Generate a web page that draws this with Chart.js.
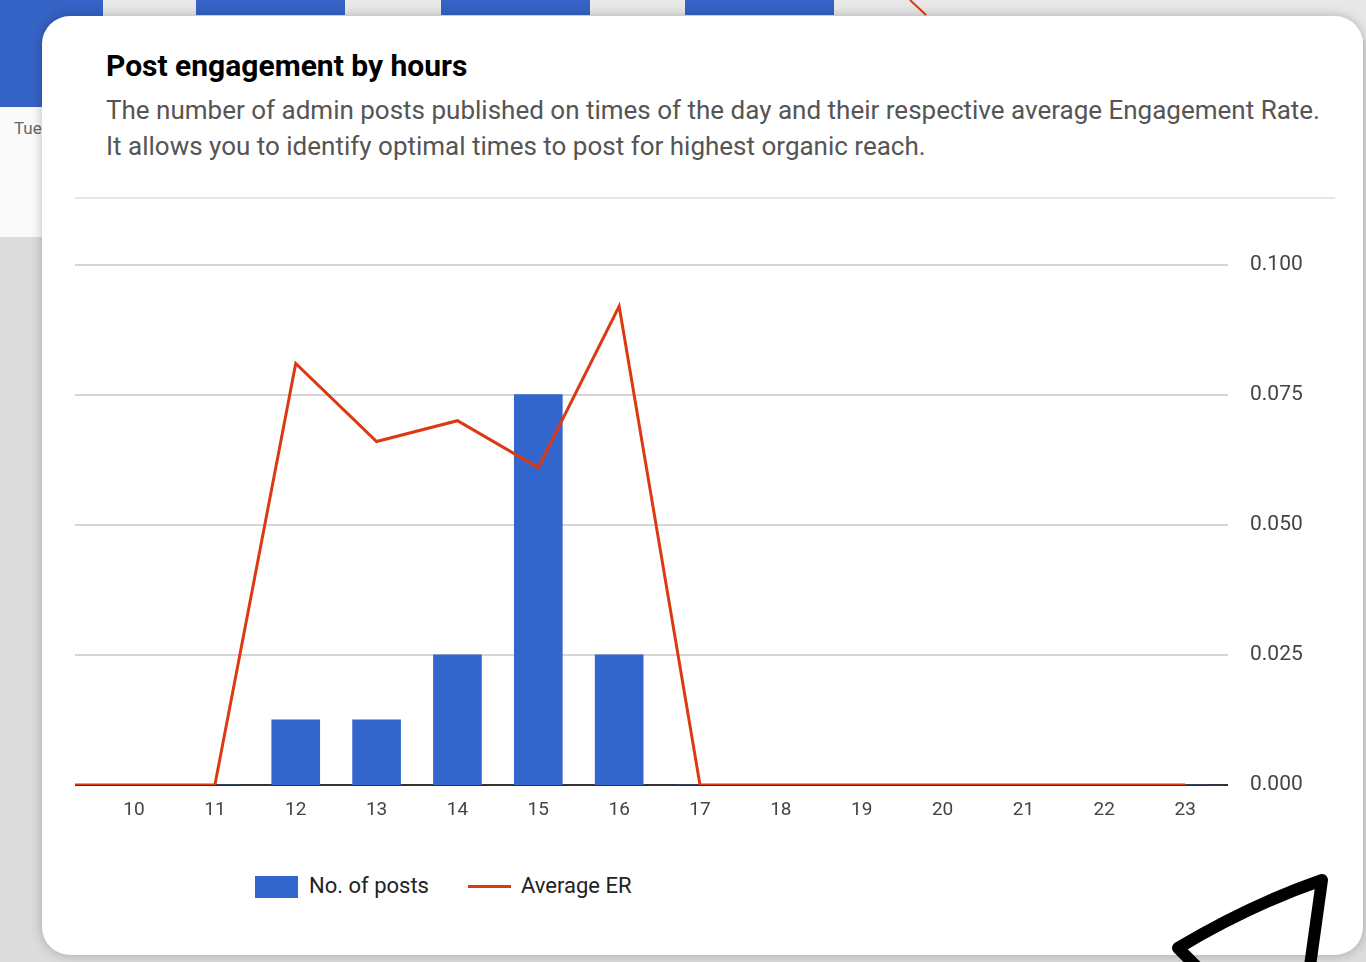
<!DOCTYPE html>
<html>
<head>
<meta charset="utf-8">
<script src="https://cdn.jsdelivr.net/npm/chart.js@4"></script>
<style>
  html, body { margin: 0; padding: 0; }
  body { width: 1366px; height: 962px; position: relative; overflow: hidden;
         background: #dcdcdc; font-family: Roboto, "Noto Sans", sans-serif; }
  .bg-top { position: absolute; left: 0; top: 0; width: 1366px; height: 40px; background: #e8e8e8; }
  .bg-white { position: absolute; left: 0; top: 107px; width: 60px; height: 130px; background: #fafafa; }
  .blue { position: absolute; top: 0; height: 15px; background: #3563c6; }
  .tue { position: absolute; left: 14px; top: 118px; font-size: 17px; color: #666; }
  .card { position: absolute; left: 42px; top: 16px; width: 1321px; height: 939px; background: #fff;
          border-radius: 28px; box-shadow: 0 0 12px rgba(0,0,0,0.25); }
  .title { position: absolute; left: 106px; top: 48px; font-size: 30px; font-weight: bold; color: #000; }
  .sub { position: absolute; left: 106px; top: 92px; font-size: 26px; line-height: 36px; color: #555; white-space: nowrap; }
  .sep { position: absolute; left: 75px; top: 197px; width: 1260px; height: 2px; background: #e6e6e6; }
  #wrap { position: absolute; left: 75px; top: 230px; width: 1243px; height: 620px; }
  .legend { position: absolute; top: 873px; left: 255px; font-size: 22px; color: #222; }
  .legend span { position: absolute; white-space: nowrap; }
  svg { position: absolute; left: 0; top: 0; }
</style>
</head>
<body>
<div class="bg-top"></div>
<div class="blue" style="left:0;width:103px;height:107px"></div>
<div class="bg-white"></div>
<div class="tue">Tue</div>
<div class="blue" style="left:196px;width:149px"></div>
<div class="blue" style="left:441px;width:149px"></div>
<div class="blue" style="left:685px;width:149px"></div>
<svg width="1366" height="962"><path d="M910 0 L926 15" stroke="#dc3912" stroke-width="2" fill="none"/></svg>
<div class="card"></div>
<div class="title">Post engagement by hours</div>
<div class="sub">The number of admin posts published on times of the day and their respective average Engagement Rate.<br>It allows you to identify optimal times to post for highest organic reach.</div>
<div class="sep"></div>
<div id="wrap"><canvas id="chart"></canvas></div>
<div class="legend">
  <span style="left:0;top:3px;width:43px;height:22px;background:#3366cc"></span>
  <span style="left:54px;top:0">No. of posts</span>
  <span style="left:213px;top:12px;width:43px;height:3px;background:#dc3912"></span>
  <span style="left:266px;top:0">Average ER</span>
</div>
<svg width="1366" height="962"><path d="M1196 966 L1178 948 Q1250 905 1322 880 L1310 966" stroke="#000" stroke-width="12" fill="none" stroke-linejoin="round"/></svg>
<script>
// hours of the day (9 lies just off the left edge of the plot)
var hours = [9, 10, 11, 12, 13, 14, 15, 16, 17, 18, 19, 20, 21, 22, 23];
var posts = [0, 0, 0, 1, 1, 2, 6, 2, 0, 0, 0, 0, 0, 0, 0];
var avgER = [0, 0, 0, 0.081, 0.066, 0.070, 0.061, 0.092, 0, 0, 0, 0, 0, 0, 0];
var hourTicks = [10, 11, 12, 13, 14, 15, 16, 17, 18, 19, 20, 21, 22, 23];
var erTicks = [0, 0.025, 0.05, 0.075, 0.1];

var ctx = document.getElementById('chart').getContext('2d');
var chart = new Chart(ctx, {
    type: 'bar',
    data: {
        datasets: [{
            type: 'line',
            label: 'Average ER',
            data: hours.map(function(h, i) { return { x: h, y: avgER[i] }; }),
            borderColor: '#dc3912',
            borderWidth: 3,
            pointRadius: 0,
            tension: 0,
            yAxisID: 'y1',
            order: 0
        }, {
            label: 'No. of posts',
            data: hours.map(function(h, i) { return { x: h, y: posts[i] }; }),
            backgroundColor: '#3366cc',
            barThickness: 48,
            yAxisID: 'y',
            order: 1
        }]
    },
    options: {
        responsive: true,
        maintainAspectRatio: false,
        animation: false,
        layout: { padding: { top: 14, left: 0, right: 0, bottom: 0 } },
        plugins: { legend: { display: false }, tooltip: { enabled: false } },
        scales: {
            x: {
                type: 'linear',
                offset: false,
                min: 9.27,
                max: 23.53,
                grid: { display: false, drawTicks: false },
                border: { display: false },
                afterBuildTicks: function(s) { s.ticks = hourTicks.map(function(v) { return { value: v }; }); },
                afterFit: function(s) { s.height = 65; },
                ticks: { padding: 14, color: '#444', font: { family: 'Roboto', size: 19 },
                         callback: function(v) { return v; } }
            },
            y: {
                display: false,
                min: 0,
                max: 8
            },
            y1: {
                position: 'right',
                min: 0,
                max: 0.1,
                grid: {
                    drawTicks: false,
                    lineWidth: 2,
                    color: function(c) { return c.tick && c.tick.value === 0 ? '#333' : '#d6d6d6'; }
                },
                border: { display: false },
                afterBuildTicks: function(s) { s.ticks = erTicks.map(function(v) { return { value: v }; }); },
                afterFit: function(s) { s.width = 90; },
                ticks: { padding: 22, color: '#444', font: { family: 'Roboto', size: 21 },
                         callback: function(v) { return v.toFixed(3); } }
            }
        }
    }
});
</script>
</body>
</html>
